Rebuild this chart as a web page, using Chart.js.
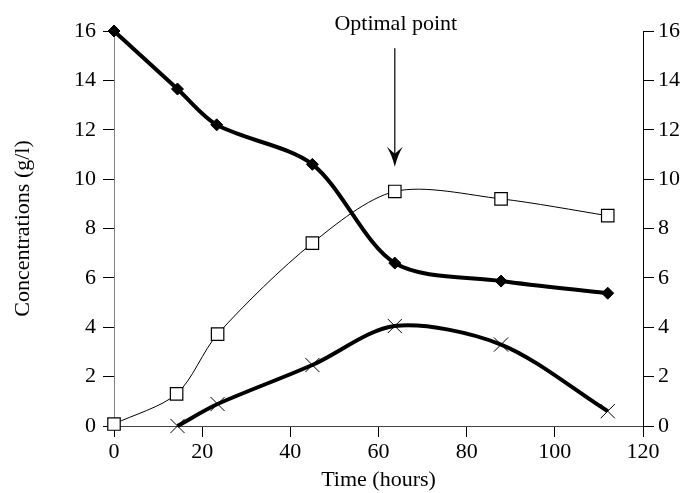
<!DOCTYPE html>
<html lang="en">
<head>
    <meta charset="UTF-8">
    <title>Concentrations vs time</title>
    <script src="https://cdn.jsdelivr.net/npm/chart.js"></script>
    <style>
        html, body { margin: 0; padding: 0; background: #fff; }
        #wrap { width: 686px; height: 493px; }
    </style>
</head>
<body>
    <div id="wrap"><canvas id="myChart" width="686" height="493"></canvas></div>

    <script>
        // values
        const timeSubstrate = [0, 14.4, 23.3, 45, 63.7, 87.8, 112];
        const substrate = [16, 13.65, 12.2, 10.6, 6.6, 5.87, 5.38];

        const timeProduct = [0, 14.2, 23.5, 45, 63.7, 87.8, 112];
        const product = [0.08, 1.3, 3.72, 7.41, 9.5, 9.2, 8.52];

        const timeBiomass = [14.4, 23.5, 45, 63.7, 87.8, 112];
        const biomass = [0, 0.89, 2.47, 4.05, 3.3, 0.6];

        const xTicks = [0, 20, 40, 60, 80, 100, 120];
        const yTicks = [0, 2, 4, 6, 8, 10, 12, 14, 16];

        const optimalTime = 63.7;
        const arrowFrom = 15.3;
        const arrowTo = 10.5;

        function toPoints(xs, ys) {
            return xs.map((x, i) => ({ x: x, y: ys[i] }));
        }

        const serif = '"Liberation Serif", "Times New Roman", serif';

        // "Optimal point" label and arrow
        const optimalArrow = {
            id: 'optimalArrow',
            afterDatasetsDraw(chart) {
                const ctx = chart.ctx;
                const x = chart.scales.x.getPixelForValue(optimalTime);
                const y0 = chart.scales.y.getPixelForValue(arrowFrom);
                const y1 = chart.scales.y.getPixelForValue(arrowTo);
                ctx.save();
                ctx.fillStyle = '#000';
                ctx.strokeStyle = '#000';
                ctx.font = '22px ' + serif;
                ctx.textAlign = 'center';
                ctx.textBaseline = 'alphabetic';
                ctx.fillText('Optimal point', x + 1, chart.chartArea.top - 1);
                ctx.lineWidth = 1.2;
                ctx.beginPath();
                ctx.moveTo(x, y0);
                ctx.lineTo(x, y1 - 6);
                ctx.stroke();
                ctx.beginPath();
                ctx.moveTo(x, y1);
                ctx.quadraticCurveTo(x - 3, y1 - 12, x - 8, y1 - 20);
                ctx.lineTo(x, y1 - 13);
                ctx.lineTo(x + 8, y1 - 20);
                ctx.quadraticCurveTo(x + 3, y1 - 12, x, y1);
                ctx.closePath();
                ctx.fill();
                ctx.restore();
            }
        };

        const ctx = document.getElementById('myChart').getContext('2d');
        const chart = new Chart(ctx, {
            type: 'line',
            data: {
                datasets: [
                    {
                        label: 'Substrate',
                        data: toPoints(timeSubstrate, substrate),
                        borderColor: '#000',
                        backgroundColor: '#000',
                        borderWidth: 4,
                        tension: 0.3,
                        pointStyle: 'rectRot',
                        pointRadius: 6,
                        pointBorderWidth: 1,
                        clip: false
                    },
                    {
                        label: 'Product',
                        data: toPoints(timeProduct, product),
                        borderColor: '#000',
                        backgroundColor: '#fff',
                        borderWidth: 1,
                        tension: 0.3,
                        pointStyle: 'rect',
                        pointRadius: 8.8,
                        pointBorderWidth: 1.2,
                        clip: false
                    },
                    {
                        label: 'Biomass',
                        data: toPoints(timeBiomass, biomass),
                        borderColor: '#000',
                        backgroundColor: '#000',
                        borderWidth: 4,
                        tension: 0.3,
                        pointStyle: 'crossRot',
                        pointRadius: 10,
                        pointBorderWidth: 1,
                        clip: false
                    }
                ]
            },
            options: {
                responsive: false,
                animation: false,
                events: [],
                layout: { padding: { top: 31, left: 0, right: 0, bottom: 0 } },
                plugins: {
                    legend: { display: false },
                    tooltip: { enabled: false }
                },
                scales: {
                    x: {
                        type: 'linear',
                        min: 0,
                        max: 120,
                        afterBuildTicks: (s) => { s.ticks = xTicks.map(v => ({ value: v })); },
                        afterFit: (s) => { s.height = 67; },
                        ticks: { color: '#000', font: { family: serif, size: 22 }, padding: 2 },
                        grid: { drawOnChartArea: false, tickLength: 11, color: '#000' },
                        border: { color: '#444' },
                        title: {
                            display: true,
                            text: 'Time (hours)',
                            color: '#000',
                            font: { family: serif, size: 22 },
                            padding: { top: 0, bottom: 0 }
                        }
                    },
                    y: {
                        position: 'left',
                        min: 0,
                        max: 16,
                        afterBuildTicks: (s) => { s.ticks = yTicks.map(v => ({ value: v })); },
                        afterFit: (s) => { s.width = 114; },
                        ticks: { color: '#000', font: { family: serif, size: 22 }, padding: 7 },
                        grid: { drawOnChartArea: false, tickLength: 11, color: '#000' },
                        border: { color: '#808080' },
                        title: {
                            display: true,
                            text: 'Concentrations (g/l)',
                            color: '#000',
                            font: { family: serif, size: 22 },
                            padding: { top: 10, bottom: 0 }
                        }
                    },
                    y2: {
                        position: 'right',
                        min: 0,
                        max: 16,
                        afterBuildTicks: (s) => { s.ticks = yTicks.map(v => ({ value: v })); },
                        afterFit: (s) => { s.width = 43; },
                        ticks: { color: '#000', font: { family: serif, size: 22 }, padding: 4 },
                        grid: { drawOnChartArea: false, tickLength: 11, color: '#000' },
                        border: { color: '#000' }
                    }
                }
            },
            plugins: [optimalArrow]
        });
    </script>
</body>
</html>
